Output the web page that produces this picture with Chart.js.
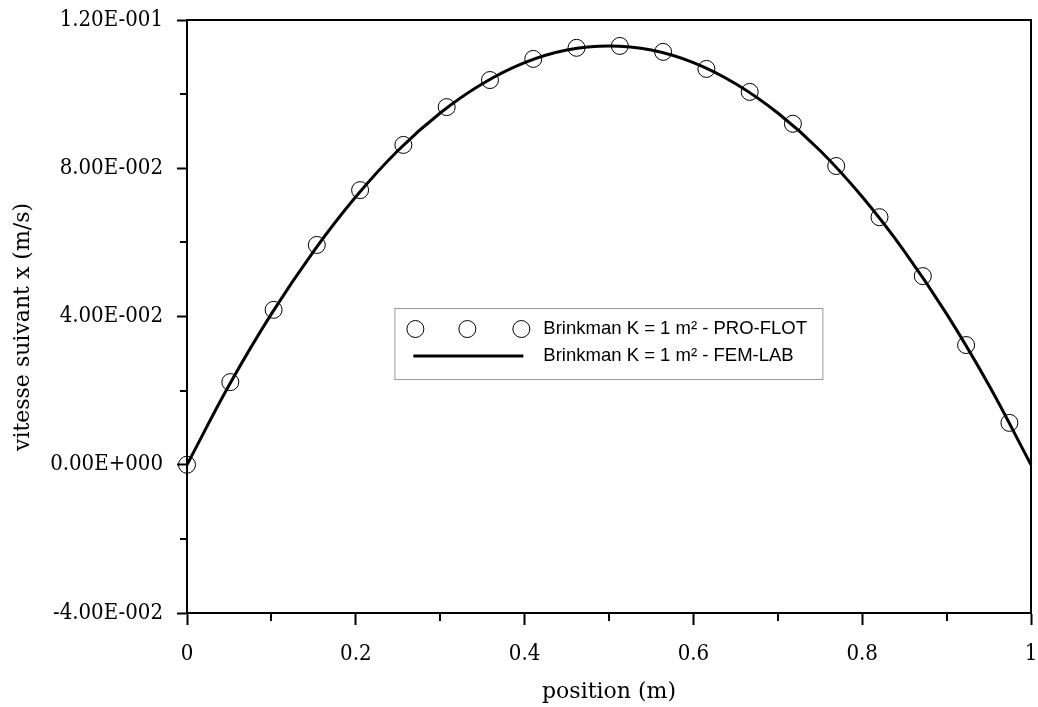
<!DOCTYPE html>
<html>
<head>
<meta charset="utf-8">
<script src="https://cdn.jsdelivr.net/npm/chart.js@4.4.1/dist/chart.umd.min.js"></script>
<style>
  html, body { margin: 0; padding: 0; background: #fff; }
  #wrap { width: 1038px; height: 707px; position: relative; }
</style>
</head>
<body>
<div id="wrap"><canvas id="velocityChart"></canvas></div>
<script>
// PRO-FLOT points (circles)
const proflotX = [0, 0.0513, 0.1026, 0.1538, 0.2051, 0.2564, 0.3077, 0.3590, 0.4103, 0.4615,
                  0.5128, 0.5641, 0.6154, 0.6667, 0.7179, 0.7692, 0.8205, 0.8718, 0.9231, 0.9744];
const proflotY = [0, 0.0223, 0.0418, 0.0593, 0.0741, 0.0863, 0.0965, 0.1038, 0.1095, 0.1125,
                  0.1130, 0.1114, 0.1068, 0.1006, 0.0920, 0.0806, 0.0668, 0.0509, 0.0323, 0.0113];

// FEM-LAB curve (line)
const femlabX = [0, 0.05, 0.1, 0.15, 0.2, 0.25, 0.3, 0.35, 0.4, 0.45, 0.5,
                 0.55, 0.6, 0.65, 0.7, 0.75, 0.8, 0.85, 0.9, 0.95, 1];
const femlabY = [0, 0.0215, 0.0407, 0.0576, 0.0723, 0.0848, 0.0949, 0.1028, 0.1085, 0.1119, 0.1130,
                 0.1119, 0.1085, 0.1028, 0.0949, 0.0848, 0.0723, 0.0576, 0.0407, 0.0215, 0];

const legendLabels = ["Brinkman K = 1 m\u00b2 - PRO-FLOT", "Brinkman K = 1 m\u00b2 - FEM-LAB"];
const xMinorTicks = [0.1, 0.3, 0.5, 0.7, 0.9];
const yMinorTicks = [-0.02, 0.02, 0.06, 0.10];

const serif = "'DejaVu Serif', 'Liberation Serif', serif";
const serifNarrow = "'DejaVu Serif Condensed', 'Liberation Serif', serif";
const sans = "'Liberation Sans', Arial, sans-serif";

function sciLabel(v) {
  if (Math.abs(v) < 1e-12) return "0.00E+000";
  const [mant, exp] = v.toExponential(2).split("e");
  const e = parseInt(exp, 10);
  return mant + "E" + (e < 0 ? "-" : "+") + String(Math.abs(e)).padStart(3, "0");
}

// frame, minor ticks and the custom legend
const decorations = {
  id: "decorations",
  afterDraw(chart) {
    const { ctx, chartArea: a, scales } = chart;
    ctx.save();
    ctx.strokeStyle = "#000";
    ctx.lineWidth = 2;
    ctx.strokeRect(a.left, a.top, a.right - a.left, a.bottom - a.top);

    ctx.beginPath();
    yMinorTicks.forEach(v => {
      const y = Math.round(scales.y.getPixelForValue(v));
      ctx.moveTo(a.left - 7, y);
      ctx.lineTo(a.left, y);
    });
    xMinorTicks.forEach(v => {
      const x = Math.round(scales.x.getPixelForValue(v));
      ctx.moveTo(x, a.bottom);
      ctx.lineTo(x, a.bottom + 8);
    });
    ctx.stroke();

    // legend box
    const w = a.right - a.left, h = a.bottom - a.top;
    const bx = a.left + w * 0.2457, by = a.top + h * 0.4857;
    const bw = 428, bh = 71;
    ctx.fillStyle = "#fff";
    ctx.fillRect(bx, by, bw, bh);
    ctx.strokeStyle = "#999";
    ctx.lineWidth = 1;
    ctx.strokeRect(bx + 0.5, by + 0.5, bw, bh);

    ctx.strokeStyle = "#000";
    ctx.lineWidth = 1;
    [21, 73, 127].forEach(dx => {
      ctx.beginPath();
      ctx.arc(bx + dx, by + 21, 8.5, 0, Math.PI * 2);
      ctx.stroke();
    });
    ctx.lineWidth = 3;
    ctx.beginPath();
    ctx.moveTo(bx + 19, by + 48);
    ctx.lineTo(bx + 129, by + 48);
    ctx.stroke();

    ctx.fillStyle = "#000";
    ctx.font = "18.5px " + sans;
    ctx.textBaseline = "middle";
    ctx.fillText(legendLabels[0], bx + 149, by + 21);
    ctx.fillText(legendLabels[1], bx + 149, by + 48);
    ctx.restore();
  }
};

const ctx = document.getElementById("velocityChart").getContext("2d");

new Chart(ctx, {
  type: "scatter",
  data: {
    datasets: [
      {
        label: legendLabels[0],
        data: proflotX.map((x, i) => ({ x, y: proflotY[i] })),
        pointStyle: "circle",
        pointRadius: 8.5,
        pointBorderWidth: 1,
        pointBorderColor: "#000",
        pointBackgroundColor: "rgba(0,0,0,0)",
        showLine: false,
        clip: false
      },
      {
        label: legendLabels[1],
        data: femlabX.map((x, i) => ({ x, y: femlabY[i] })),
        showLine: true,
        borderColor: "#000",
        borderWidth: 3,
        tension: 0.4,
        pointRadius: 0,
        clip: false
      }
    ]
  },
  options: {
    responsive: true,
    maintainAspectRatio: false,
    animation: false,
    layout: { autoPadding: false, padding: { top: 20, right: 7, left: 0, bottom: 0 } },
    plugins: {
      legend: { display: false },
      tooltip: { enabled: false }
    },
    scales: {
      x: {
        type: "linear",
        min: 0,
        max: 1,
        ticks: {
          stepSize: 0.2,
          padding: 16,
          color: "#000",
          font: { family: serifNarrow, size: 22 },
          callback: v => String(Math.round(v * 10) / 10)
        },
        grid: { drawOnChartArea: false, tickLength: 12, tickWidth: 2, tickColor: "#000" },
        border: { color: "#000", width: 2 },
        title: {
          display: true,
          text: "position (m)",
          color: "#000",
          font: { family: serif, size: 22 },
          padding: { top: 0, bottom: 2 }
        },
        afterFit: s => {
          s.height = 94;
          s.paddingLeft = 0;
          s.paddingRight = 0;
        }
      },
      y: {
        type: "linear",
        min: -0.04,
        max: 0.12,
        ticks: {
          stepSize: 0.04,
          padding: 14,
          color: "#000",
          font: { family: serifNarrow, size: 22 },
          callback: v => sciLabel(v)
        },
        grid: { drawOnChartArea: false, tickLength: 10, tickWidth: 2, tickColor: "#000" },
        border: { color: "#000", width: 2 },
        title: {
          display: true,
          text: "vitesse suivant x (m/s)   ",
          color: "#000",
          font: { family: serif, size: 22 },
          padding: { top: 10, bottom: 0 }
        },
        afterFit: s => {
          s.width = 187;
          s.paddingTop = 0;
          s.paddingBottom = 0;
        }
      }
    }
  },
  plugins: [decorations]
});
</script>
</body>
</html>
